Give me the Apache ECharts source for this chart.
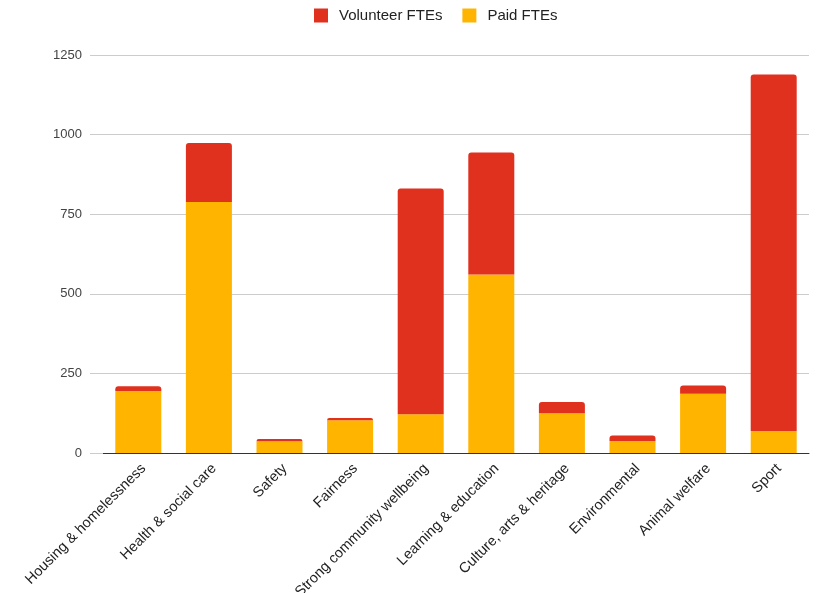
<!DOCTYPE html>
<html>
<head>
<meta charset="utf-8">
<script src="https://cdn.jsdelivr.net/npm/echarts@6/dist/echarts.min.js"></script>
<style>
  html, body { margin: 0; padding: 0; background: #fff; }
  #main { width: 823px; height: 593px; }
</style>
</head>
<body>
<div id="main"></div>
<script>
// categories and values
var categories = ['Housing & homelessness', 'Health & social care', 'Safety', 'Fairness',
  'Strong community wellbeing', 'Learning & education', 'Culture, arts & heritage',
  'Environmental', 'Animal welfare', 'Sport'];
var paid = [195, 788, 37, 103, 122, 561, 125, 38, 186, 69];
var volunteer = [15, 186, 7, 7, 709, 383, 35, 17, 26, 1120];
var yTicks = [0, 250, 500, 750, 1000, 1250];

var chart = echarts.init(document.getElementById('main'));

var option = {
  animation: false,
  textStyle: { fontFamily: 'Liberation Sans, Arial, sans-serif' },
  legend: {
    data: ['Volunteer FTEs', 'Paid FTEs'],
    top: 3,
    left: 309,
    itemWidth: 14,
    itemHeight: 14,
    itemGap: 20,
    icon: 'rect',
    textStyle: { fontSize: 15, color: '#222', padding: [0, 0, 0, 6] }
  },
  grid: {
    left: 103,
    right: 14,
    top: 55,
    bottom: 140,
    outerBoundsMode: 'none'
  },
  xAxis: {
    type: 'category',
    data: categories,
    axisLine: { lineStyle: { color: '#333', width: 1 } },
    axisTick: { show: false },
    axisLabel: {
      rotate: 45,
      margin: 8,
      interval: 0,
      fontSize: 14.5,
      verticalAlign: 'top',
      color: '#222'
    }
  },
  yAxis: {
    type: 'value',
    min: yTicks[0],
    max: yTicks[yTicks.length - 1],
    interval: 250,
    axisLine: { show: true, lineStyle: { color: 'rgba(0,0,0,0)' } },
    axisTick: { show: true, length: 13, lineStyle: { color: '#ccc' } },
    splitLine: { lineStyle: { color: '#ccc', width: 1 } },
    axisLabel: {
      fontSize: 13,
      color: '#444',
      margin: 21,
      formatter: function (v) { return String(v); }
    }
  },
  series: [
    {
      name: 'Paid FTEs',
      type: 'bar',
      stack: 'fte',
      data: paid,
      barWidth: 46,
      itemStyle: { color: '#ffb400' }
    },
    {
      name: 'Volunteer FTEs',
      type: 'bar',
      stack: 'fte',
      data: volunteer,
      barWidth: 46,
      itemStyle: { color: '#e0311f', borderRadius: [3, 3, 0, 0] }
    }
  ]
};

chart.setOption(option);
</script>
</body>
</html>
